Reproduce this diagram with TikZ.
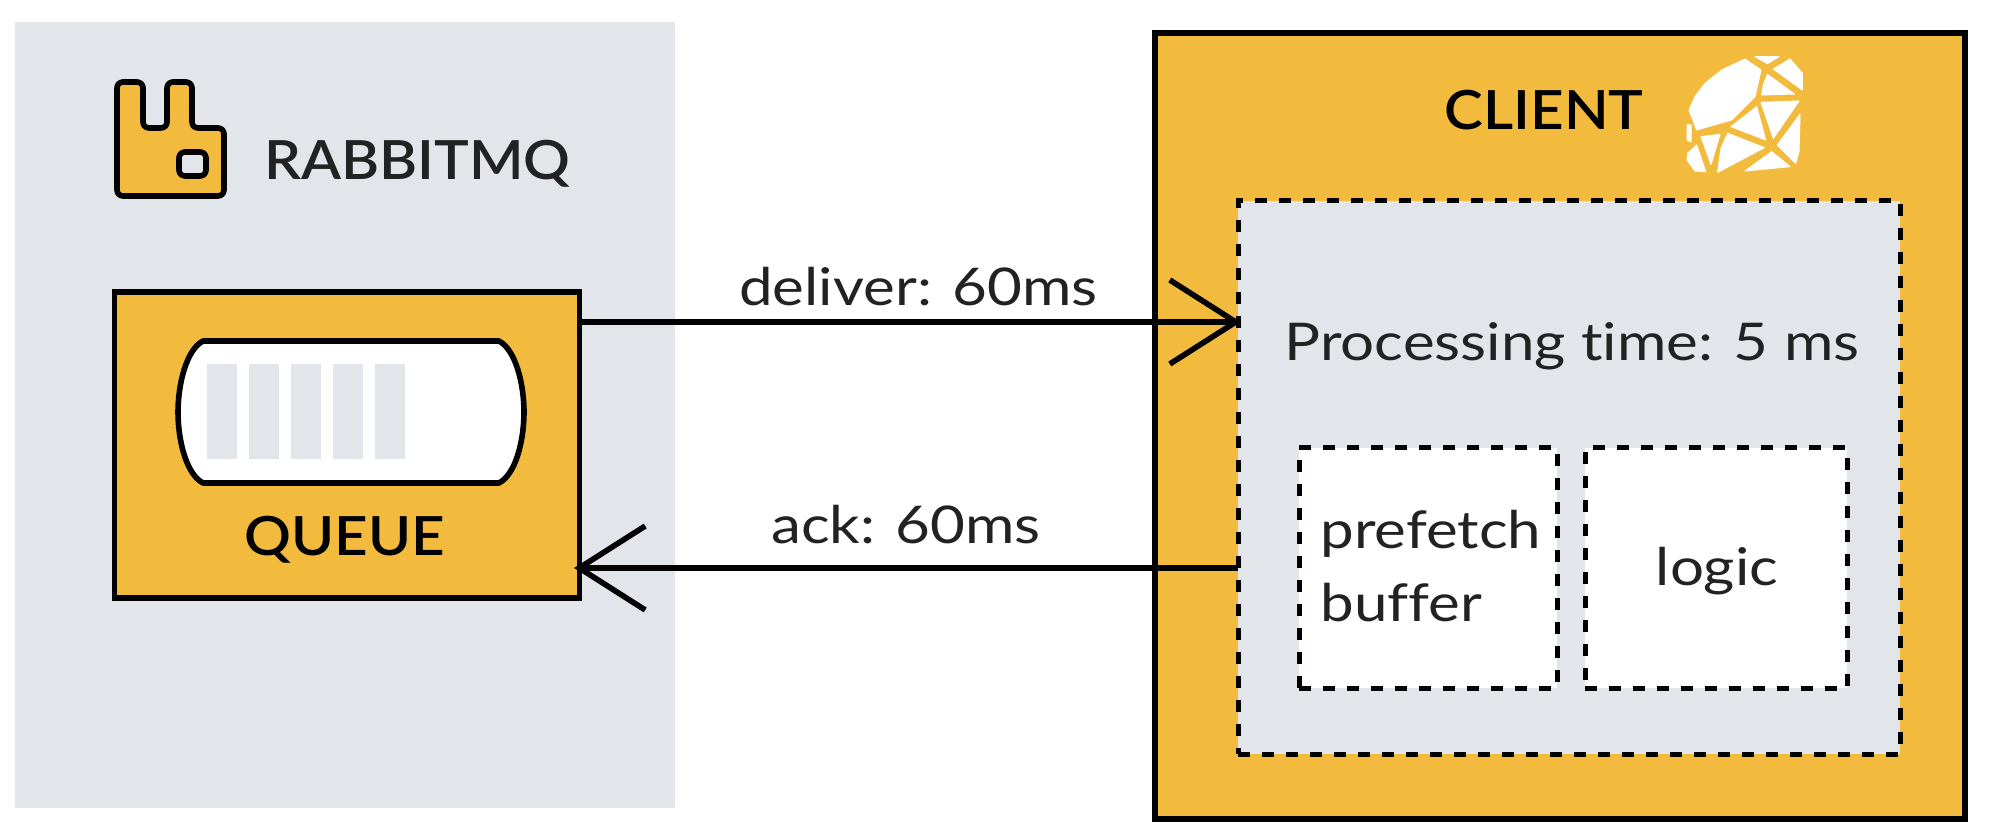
\documentclass[tikz,border=0pt]{standalone}
\usepackage{fontspec}
\setmainfont[Ligatures=NoCommon]{Lato}
\newfontfamily\capsfont{Lato Semibold}
\usetikzlibrary{arrows.meta}
\definecolor{panelgray}{HTML}{E2E5EA}
\definecolor{boxorange}{HTML}{F3BB3E}
\definecolor{inkblack}{HTML}{222222}
\tikzset{
  pxtext/.style={inner sep=0pt,text=inkblack,font=\fontsize{26}{26}\selectfont,transform shape,xscale=1.155},
  captext/.style={inner sep=0pt,text=black,font=\fontsize{27}{27}\capsfont,transform shape,xscale=1.08},
  solidbox/.style={rectangle,draw=black,line width=2.8pt,fill=boxorange,inner sep=0pt},
  dashbox/.style={rectangle,draw=black,line width=2.5pt,dash pattern=on 6pt off 6pt,inner sep=0pt},
  barbline/.style={line width=2.8pt,-{Straight Barb[length=33pt,width=42pt,line width=2.8pt]}}
}
\begin{document}
\begin{tikzpicture}[x=0.5pt,y=-0.5pt]
    \useasboundingbox (0,0) rectangle (1989,838);
    \fill[white] (0,0) rectangle (1989,838);
    \begin{scope}[every node/.append style={anchor=center}]
        \node (panel) [fill=panelgray,minimum width=330pt,minimum height=393pt,inner sep=0pt] at (345,415) {};
        \node (queue) [solidbox,minimum width=232.5pt,minimum height=153pt] at (347,445) {};
        \node (client) [solidbox,minimum width=405pt,minimum height=393pt] at (1560,426) {};
        \node (proc) [dashbox,fill=panelgray,minimum width=331pt,minimum height=276.5pt] at (1569,477.5) {};
        \node (prefetch) [dashbox,fill=white,minimum width=129pt,minimum height=120pt] at (1428,568) {};
        \node (logic) [dashbox,fill=white,minimum width=131pt,minimum height=120pt] at (1716,568) {};
    \end{scope}
    \draw[line width=2.8pt,line join=round,fill=boxorange,rounded corners=3pt]
        (117,82) -- (143,82) -- (143,128) -- (167,128) -- (167,82) -- (192,82) -- (192,128)
        -- (224,128) -- (224,196) -- (117,196) -- cycle;
    \draw[line width=2.8pt,fill=panelgray,rounded corners=3pt] (179,152) rectangle (206,176);
    \draw[line width=2.8pt,fill=white,line join=round]
        (350,341) -- (499,341) .. controls (516,350) and (524,385) .. (524,412)
        .. controls (524,440) and (516,474) .. (499,483) -- (203,483)
        .. controls (186,474) and (178,440) .. (178,412)
        .. controls (178,385) and (186,350) .. (203,341) -- cycle;
    \foreach \barx in {207,249,291,333,375}
        \fill[panelgray] (\barx,364) rectangle (\barx+30,459);
    \begin{scope}[shift={(1675,45)},scale=1/3]
        \filldraw[white,line width=0.5pt,line join=round] (240,35) -- (312,35) -- (277,56) -- cycle
            (295,72) -- (345,42) -- (382,85) -- (382,135) -- cycle
            (277,88) -- (358,147) -- (260,150) -- (265,120) -- cycle
            (210,42) -- (258,75) -- (240,155) -- (170,225) -- (65,255) -- (42,195) -- (60,155) -- (90,115) -- (140,75) -- cycle
            (258,172) -- (372,168) -- (295,280) -- cycle
            (245,185) -- (272,285) -- (168,245) -- cycle
            (36,240) -- (48,240) -- (48,290) -- (36,285) -- cycle
            (78,275) -- (135,268) -- (108,358) -- cycle
            (65,300) -- (92,380) -- (60,378) -- (36,345) -- (38,325) -- cycle
            (158,265) -- (268,308) -- (128,382) -- (138,310) -- cycle
            (375,208) -- (372,320) -- (362,355) -- (307,300) -- cycle
            (290,320) -- (345,365) -- (210,378) -- cycle;
    \end{scope}
    \node (rabbitlabel) [captext,text=inkblack,anchor=base west] at (264,180) {RABBITMQ};
    \node (queuelabel) [captext,anchor=base] at (345,556) {QUEUE};
    \node (clientlabel) [captext,anchor=base] at (1544,130) {CLIENT};
    \node (proclabel) [pxtext,anchor=base] at (1572,361) {Processing time: 5 ms};
    \node (prefetchlabel) [pxtext,anchor=base west] at (1320,549) {prefetch};
    \node (bufferlabel) [pxtext,anchor=base west] at (1320,621) {buffer};
    \node (logiclabel) [pxtext,anchor=base] at (1717,585) {logic};
    \coordinate (D0) at (582,322);
    \coordinate (D1) at (1241,322);
    \coordinate (A0) at (1238,568);
    \coordinate (A1) at (574,568);
    \draw[barbline] (D0) -- node[pxtext,above,yshift=6.5pt,xshift=3pt] (deliverlabel) {deliver: 60ms} (D1);
    \draw[barbline] (A0) -- node[pxtext,above,yshift=10.5pt,xshift=0pt] (acklabel) {ack: 60ms} (A1);
\end{tikzpicture}
\end{document}
